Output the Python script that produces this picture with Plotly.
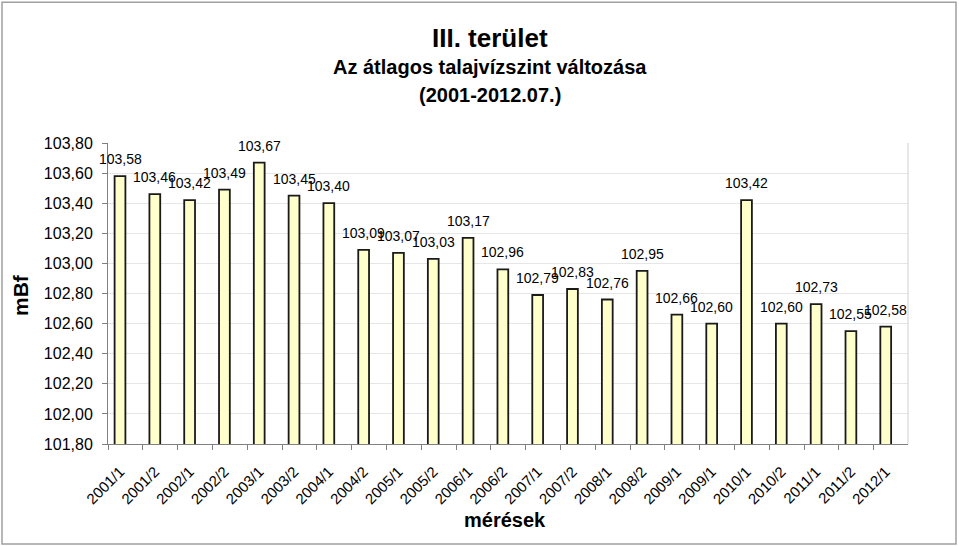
import plotly.graph_objects as go

labels = ["2001/1", "2001/2", "2002/1", "2002/2", "2003/1", "2003/2", "2004/1", "2004/2",
          "2005/1", "2005/2", "2006/1", "2006/2", "2007/1", "2007/2", "2008/1", "2008/2",
          "2009/1", "2009/1", "2010/1", "2010/2", "2011/1", "2011/2", "2012/1"]
values = [103.58, 103.46, 103.42, 103.49, 103.67, 103.45, 103.40, 103.09, 103.07, 103.03,
          103.17, 102.96, 102.79, 102.83, 102.76, 102.95, 102.66, 102.60, 103.42, 102.60,
          102.73, 102.55, 102.58]
y_ticks = [101.8, 102.0, 102.2, 102.4, 102.6, 102.8, 103.0, 103.2, 103.4, 103.6, 103.8]

FONT = "Liberation Sans, Arial, sans-serif"
idx = list(range(len(labels)))
x0 = -0.345

fig = go.Figure(go.Bar(
    x=idx, y=values, width=0.31,
    marker=dict(color="#FFFFCC", line=dict(color="#1a1a1a", width=1.8)),
    cliponaxis=False,
))

value_labels = [
    dict(text=f"{v:.2f}".replace(".", ","), x=i, y=v, xref="x", yref="y",
         showarrow=False, yshift=17, xanchor="center", yanchor="middle",
         font=dict(size=14, family=FONT, color="black"))
    for i, v in zip(idx, values)
]

fig.update_layout(
    width=959, height=546,
    margin=dict(l=108, r=51, t=143, b=102),
    paper_bgcolor="white", plot_bgcolor="white",
    separators=",.",
    showlegend=False,
    font=dict(family=FONT, color="black"),
    xaxis=dict(
        range=[x0, len(labels) - 1 + 0.64], tickmode="array", tickvals=idx, ticktext=labels,
        tickangle=-45, ticks="outside", ticklen=12, tickcolor="rgba(0,0,0,0)",
        tickfont=dict(size=15, family=FONT),
        showline=True, linecolor="#808080", linewidth=1, showgrid=False, zeroline=False,
        minor=dict(tickmode="array", tickvals=[x0 + k for k in range(len(labels) + 1)],
                   ticks="outside", ticklen=5, tickcolor="#808080", showgrid=False),
    ),
    yaxis=dict(
        range=[101.8, 103.8], tickmode="array", tickvals=y_ticks, tickformat=".2f",
        tickfont=dict(size=16, family=FONT), ticks="outside", ticklen=5, tickcolor="#808080",
        ticklabelstandoff=6,
        showline=True, linecolor="#808080", linewidth=1, showgrid=True, gridcolor="#e6e6e6",
        gridwidth=1, zeroline=False, mirror=False,
    ),
    shapes=[
        dict(type="line", xref="paper", yref="paper", x0=1, x1=1, y0=0, y1=1,
             line=dict(color="#d0d0d0", width=1)),
        dict(type="rect", xref="paper", yref="paper", x0=-0.1325, x1=1.06, y0=-0.332, y1=1.468,
             line=dict(color="#a0a0a0", width=1.5)),
    ],
    annotations=value_labels + [
        dict(text="<b>III. terület</b>", xref="paper", yref="paper", x=0.4775, y=1.349,
             showarrow=False, font=dict(size=26, family=FONT), xanchor="center", yanchor="middle"),
        dict(text="<b>Az átlagos talajvízszint változása</b>", xref="paper", yref="paper",
             x=0.4775, y=1.252, showarrow=False, font=dict(size=20, family=FONT),
             xanchor="center", yanchor="middle"),
        dict(text="<b>(2001-2012.07.)</b>", xref="paper", yref="paper", x=0.4775, y=1.159,
             showarrow=False, font=dict(size=20, family=FONT), xanchor="center", yanchor="middle"),
        dict(text="<b>mBf</b>", xref="paper", yref="paper", x=-0.11, y=0.495, textangle=-90,
             showarrow=False, font=dict(size=21, family=FONT), xanchor="center", yanchor="middle"),
        dict(text="<b>mérések</b>", xref="paper", yref="paper", x=0.496, y=-0.2525,
             showarrow=False, font=dict(size=20, family=FONT), xanchor="center", yanchor="middle"),
    ],
)

fig.write_html("out.html")
